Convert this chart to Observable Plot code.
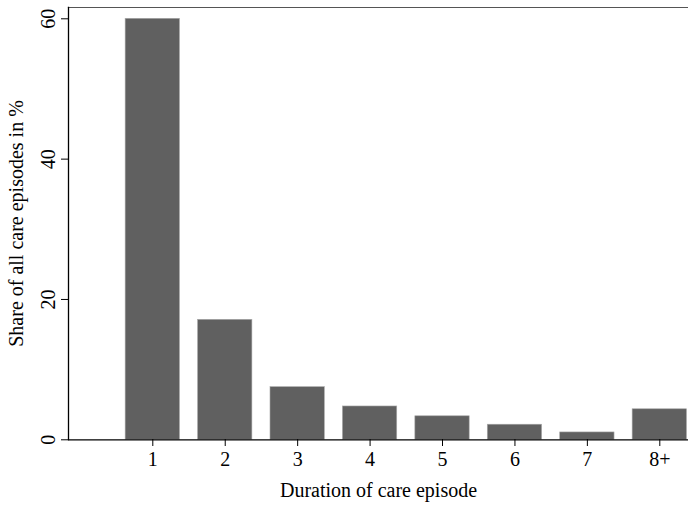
<!DOCTYPE html>
<html>
<head>
<meta charset="utf-8">
<script src="https://cdn.jsdelivr.net/npm/d3@7"></script>
<script src="https://cdn.jsdelivr.net/npm/@observablehq/plot@0.6"></script>
<style>
  html, body { margin: 0; padding: 0; background: white; }
  #chart svg, #chart svg text { font-family: "Liberation Serif", "Times New Roman", serif !important; }
</style>
</head>
<body>
<div id="chart"></div>
<script>
const categories = ["1", "2", "3", "4", "5", "6", "7", "8+"];
const shares = [60.0, 17.1, 7.5, 4.75, 3.35, 2.15, 1.05, 4.35];
const yTicks = [0, 20, 40, 60];
const xTitle = "Duration of care episode";
const yTitle = "Share of all care episodes in %";

const data = categories.map((c, i) => ({category: c, pos: i + 1, share: shares[i]}));
const halfBar = 0.375;
const serif = "Liberation Serif";

const chart = Plot.plot({
  width: 688,
  height: 507,
  marginLeft: 68,
  marginRight: 0,
  marginTop: 7,
  marginBottom: 68,
  style: {fontFamily: serif, fontSize: "20px", background: "white", color: "black"},
  x: {domain: [1, 8], range: [152.3, 659.3]},
  y: {domain: [0, 60], range: [439.3, 18.3]},
  marks: [
    Plot.rectY(data, {
      x1: d => d.pos - halfBar,
      x2: d => d.pos + halfBar,
      y: "share",
      fill: "#606060",
      stroke: "#a8a8a8",
      strokeWidth: 0.6
    }),
    Plot.frame({anchor: "top", stroke: "#555", strokeWidth: 1.2}),
    Plot.frame({anchor: "left", stroke: "black", strokeWidth: 1.3}),
    Plot.axisY({
      ticks: yTicks,
      tickSize: 7,
      tickPadding: 7,
      tickRotate: -90,
      fontSize: 20,
      fontFamily: serif,
      label: yTitle,
      labelAnchor: "center",
      labelOffset: 60,
      labelArrow: "none"
    }),
    Plot.axisX({
      ticks: data.map(d => d.pos),
      tickFormat: v => categories[v - 1],
      tickSize: 7,
      tickPadding: 5,
      fontSize: 20,
      fontFamily: serif,
      label: xTitle,
      labelAnchor: "center",
      labelOffset: 57,
      labelArrow: "none"
    }),
    Plot.ruleY([0], {strokeWidth: 1.3})
  ]
});
document.getElementById("chart").appendChild(chart);
</script>
</body>
</html>
